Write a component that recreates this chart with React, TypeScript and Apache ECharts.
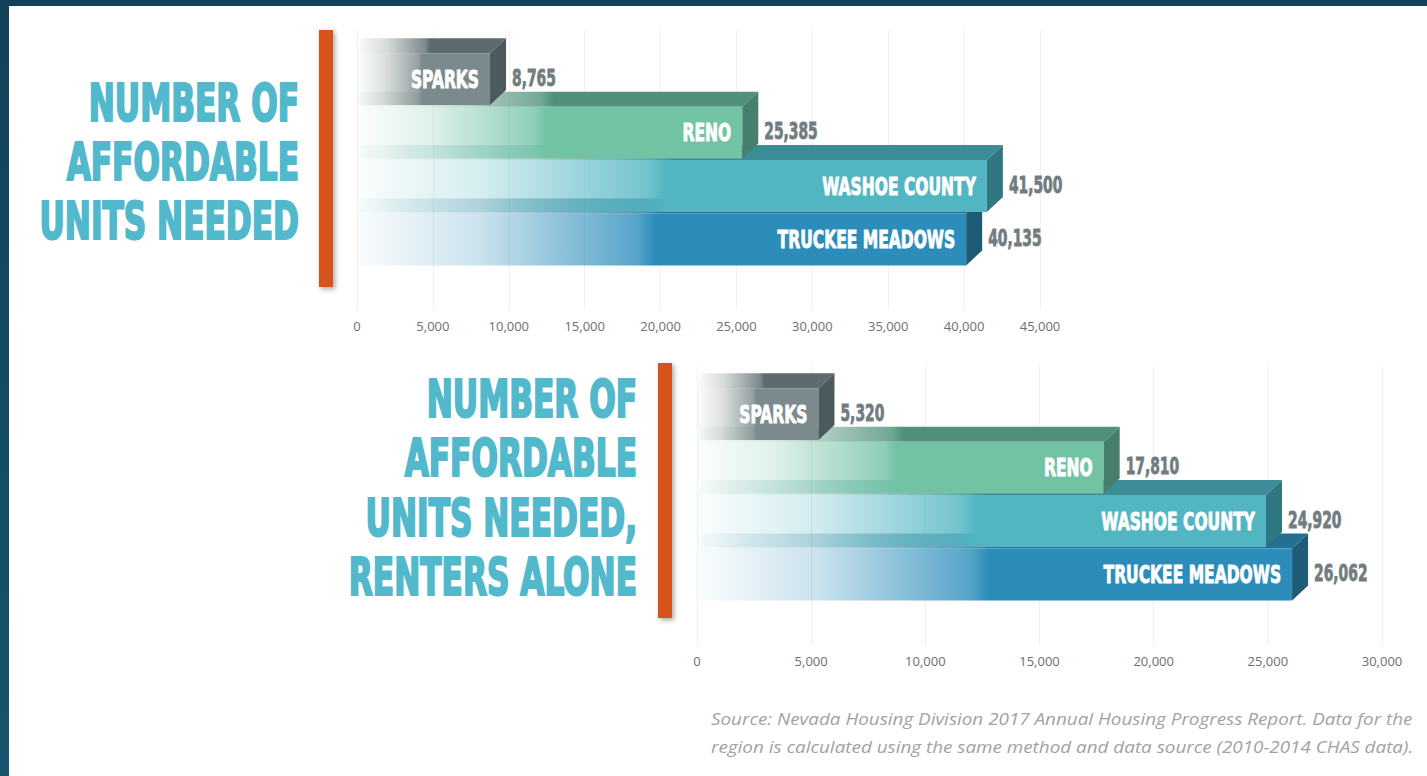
import React, { useEffect, useRef } from 'react';
import * as echarts from 'echarts';

// ---------- data ----------
const categories = ['SPARKS', 'RENO', 'WASHOE COUNTY', 'TRUCKEE MEADOWS'];
const allUnits = [8765, 25385, 41500, 40135];
const renterUnits = [5320, 17810, 24920, 26062];
const axisMaxAll = 45000;
const axisMaxRenters = 30000;
const axisInterval = 5000;
const titleAll = ['NUMBER OF', 'AFFORDABLE', 'UNITS NEEDED'];
const titleRenters = ['NUMBER OF', 'AFFORDABLE', 'UNITS NEEDED,', 'RENTERS ALONE'];
const sourceLines = [
  'Source: Nevada Housing Division 2017 Annual Housing Progress Report. Data for the',
  'region is calculated using the same method and data source (2010-2014 CHAS data).',
];

// ---------- styles ----------
const faceColors = [
  { front: '#7b8a8c', top: '#5c6b6d', side: '#4b5a5d' },
  { front: '#72c2a4', top: '#4f8f7b', side: '#467f6d' },
  { front: '#52b5c2', top: '#3c8d97', side: '#2f7882' },
  { front: '#2c8dbb', top: '#246f93', side: '#1e5b77' },
];
const CONDENSED = '"DejaVu Sans Condensed", "DejaVu Sans", sans-serif';
const TITLE_COLOR = '#52b8cb';
const VALUE_COLOR = '#717c80';

function rgba(hex: string, a: number) {
  const n = parseInt(hex.slice(1), 16);
  return `rgba(${(n >> 16) & 255},${(n >> 8) & 255},${n & 255},${a})`;
}

function fade(hex: string) {
  return new echarts.graphic.LinearGradient(0, 0, 1, 0, [
    { offset: 0, color: rgba(hex, 0.02) },
    { offset: 0.2, color: rgba(hex, 0.25) },
    { offset: 0.46, color: rgba(hex, 0.8) },
    { offset: 0.49, color: rgba(hex, 1) },
    { offset: 1, color: rgba(hex, 1) },
  ]);
}

function renderBar(params: any, api: any) {
  const v = api.value(0);
  const i = api.value(1);
  const p0 = api.coord([0, i]);
  const p1 = api.coord([v, i]);
  const h = api.size([0, 1])[1] * 0.97;
  const dx = 16;
  const dy = 15;
  const x0 = p0[0];
  const x1 = p1[0];
  const yT = p1[1] - h / 2;
  const yB = p1[1] + h / 2;
  const c = faceColors[i];
  const base = (categories.length - i) * 10;
  return {
    type: 'group',
    children: [
      {
        type: 'polygon',
        z2: base + 1,
        shape: { points: [[x0, yT], [x1, yT], [x1 + dx, yT - dy], [x0 + 4, yT - dy]] },
        style: { fill: fade(c.top) },
      },
      {
        type: 'rect',
        z2: base + 2,
        shape: { x: x0, y: yT, width: x1 - x0, height: h },
        style: { fill: fade(c.front) },
      },
      {
        type: 'polygon',
        z2: base + 3,
        shape: { points: [[x1, yT], [x1 + dx, yT - dy], [x1 + dx, yB - dy], [x1, yB]] },
        style: { fill: c.side },
      },
      {
        type: 'text',
        z2: 200,
        x: x1 - 11,
        y: p1[1],
        scaleX: 0.69,
        style: {
          text: categories[i],
          fill: '#ffffff',
          stroke: '#ffffff',
          lineWidth: 0.9,
          fontFamily: CONDENSED,
          fontWeight: 'bold',
          fontSize: 25,
          align: 'right',
          verticalAlign: 'middle',
        },
      },
      {
        type: 'text',
        z2: 200,
        x: x1 + dx + 6,
        y: p1[1] - 1,
        scaleX: 0.67,
        style: {
          text: v.toLocaleString('en-US'),
          fill: VALUE_COLOR,
          stroke: VALUE_COLOR,
          lineWidth: 0.8,
          fontFamily: CONDENSED,
          fontWeight: 'bold',
          fontSize: 23,
          align: 'left',
          verticalAlign: 'middle',
        },
      },
    ],
  };
}

function titleTexts(lines: string[], right: number, firstY: number, pitch: number) {
  return lines.map((t, k) => ({
    type: 'text',
    x: right - 1,
    y: firstY + k * pitch,
    scaleX: 0.68,
    style: {
      text: t,
      fill: TITLE_COLOR,
      stroke: TITLE_COLOR,
      lineWidth: 2.2,
      fontFamily: CONDENSED,
      fontWeight: 'bold',
      fontSize: 51,
      align: 'right',
      verticalAlign: 'middle',
    },
  }));
}

function orangeBar(x: number, y: number, h: number) {
  return {
    type: 'rect',
    shape: { x, y, width: 14, height: h },
    style: {
      fill: '#d6531f',
      shadowBlur: 5,
      shadowOffsetX: 2,
      shadowOffsetY: 2,
      shadowColor: 'rgba(0,0,0,0.35)',
    },
  };
}

const xAxisCommon = {
  type: 'value',
  min: 0,
  interval: axisInterval,
  axisLine: { show: false },
  axisTick: { show: false },
  splitLine: { show: true, lineStyle: { color: '#f0f0f0', width: 1 } },
  axisLabel: {
    color: '#6e6e6e',
    fontFamily: '"Open Sans", sans-serif',
    fontSize: 13,
    margin: 9,
    formatter: (v: number) => v.toLocaleString('en-US'),
  },
};

const yAxisCommon = {
  type: 'value',
  inverse: true,
  min: -0.92,
  max: 4.32,
  show: false,
};

export default function App() {
  const ref = useRef<HTMLDivElement>(null);
  useEffect(() => {
    if (!ref.current) return;
    const chart = echarts.init(ref.current, undefined, { renderer: 'svg' });
    chart.setOption({
      animation: false,
      backgroundColor: '#ffffff',
      grid: [
        { left: 357, top: 30, width: 683, height: 280 },
        { left: 697, top: 365, width: 685, height: 280 },
      ],
      xAxis: [
        { ...xAxisCommon, gridIndex: 0, max: axisMaxAll },
        { ...xAxisCommon, gridIndex: 1, max: axisMaxRenters },
      ],
      yAxis: [
        { ...yAxisCommon, gridIndex: 0 },
        { ...yAxisCommon, gridIndex: 1 },
      ],
      series: [
        {
          type: 'custom',
          name: 'Affordable units needed',
          xAxisIndex: 0,
          yAxisIndex: 0,
          renderItem: renderBar,
          encode: { x: 0, y: 1 },
          data: allUnits.map((v, i) => [v, i]),
        },
        {
          type: 'custom',
          name: 'Affordable units needed, renters alone',
          xAxisIndex: 1,
          yAxisIndex: 1,
          renderItem: renderBar,
          encode: { x: 0, y: 1 },
          data: renterUnits.map((v, i) => [v, i]),
        },
      ],
      graphic: [
        { type: 'rect', shape: { x: 0, y: 0, width: 1427, height: 6 }, style: { fill: '#12425a' }, z: 100 },
        {
          type: 'rect',
          shape: { x: 0, y: 0, width: 9, height: 776 },
          style: {
            fill: new echarts.graphic.LinearGradient(0, 0, 0, 1, [
              { offset: 0, color: '#12425a' },
              { offset: 1, color: '#15556f' },
            ]),
          },
          z: 100,
        },
        orangeBar(319, 30, 257),
        orangeBar(658, 363, 255),
        ...titleTexts(titleAll, 300, 103, 59),
        ...titleTexts(titleRenters, 638, 399, 59.5),
        ...sourceLines.map((t, k) => ({
          type: 'text',
          x: 711,
          y: 718 + k * 28,
          scaleX: 1.11,
          style: {
            text: t,
            fill: '#a2a2a2',
            fontFamily: '"Open Sans", sans-serif',
            fontStyle: 'italic',
            fontSize: 17,
            align: 'left',
            verticalAlign: 'middle',
          },
        })),
      ],
    });
    return () => chart.dispose();
  }, []);
  return (
    <div
      ref={ref}
      style={{ position: 'fixed', left: 0, top: 0, width: 1427, height: 776 }}
    />
  );
}
